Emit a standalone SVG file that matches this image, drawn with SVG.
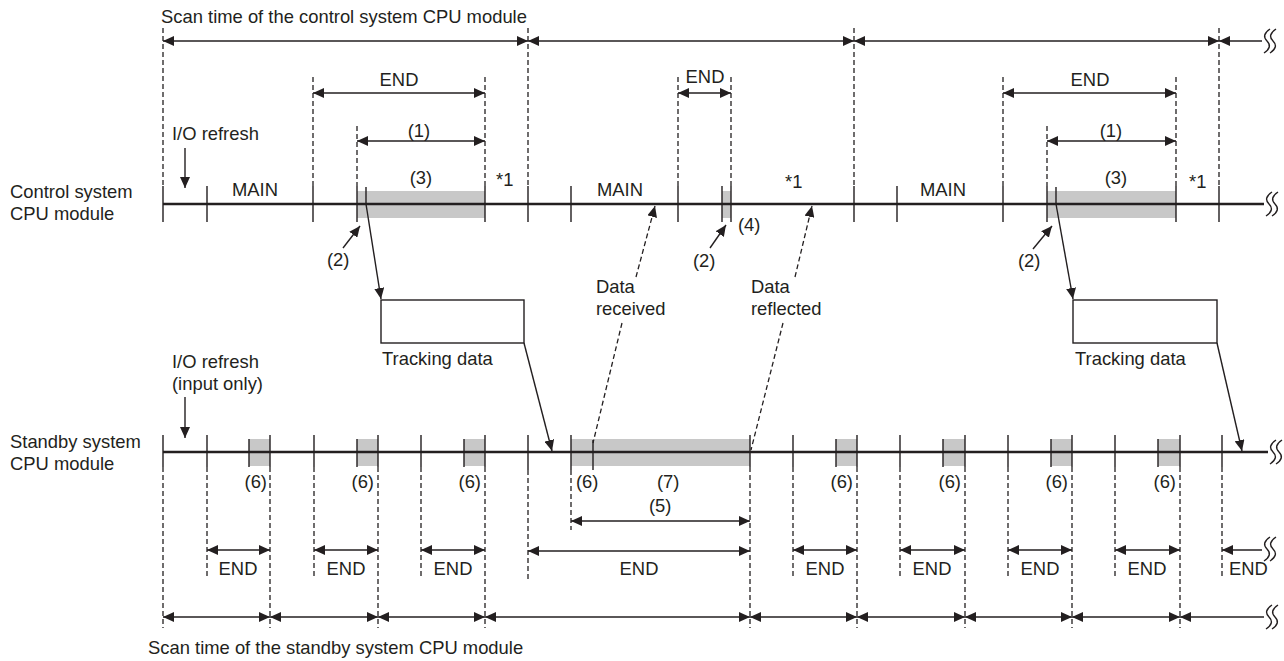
<svg xmlns="http://www.w3.org/2000/svg" width="1284" height="661" viewBox="0 0 1284 661">
<style>
text{font-family:"Liberation Sans",Arial,sans-serif;font-size:18.4px;fill:#231f20}
.c{text-anchor:middle}
.e{text-anchor:end}
.tl{stroke:#231f20;stroke-width:2.6;fill:none}
.tk{stroke:#231f20;stroke-width:1.4;fill:none}
.ds{stroke:#231f20;stroke-width:1.3;stroke-dasharray:5,3;fill:none}
.ar{stroke:#231f20;stroke-width:1.4;fill:none;marker-end:url(#ah)}
.dd{stroke:#231f20;stroke-width:1.4;fill:none;marker-start:url(#ah);marker-end:url(#ah)}
.st{stroke:#231f20;stroke-width:1.4;fill:none;marker-start:url(#ah)}
.dar{stroke:#231f20;stroke-width:1.3;stroke-dasharray:5,3;fill:none;marker-end:url(#ah)}
.da{stroke:#231f20;stroke-width:1.3;stroke-dasharray:5,3;fill:none}
.g{fill:#c8c8c8}
.br{stroke:#231f20;stroke-width:1.4;fill:none}
.bx{fill:#fff;stroke:#231f20;stroke-width:1.4}
</style>
<defs>
<marker id="ah" markerUnits="userSpaceOnUse" markerWidth="12" markerHeight="10" refX="11" refY="5" orient="auto-start-reverse">
<path d="M0,0 L11,5 L0,10 z" fill="#231f20"/>
</marker>
<path id="sq" d="M4,-12 Q-5,-6 1,0 Q7,6 -2,12"/>
</defs>

<g id="labels">
<text x="161" y="23">Scan time of the control system CPU module</text>
<text x="10" y="198">Control system</text>
<text x="10" y="220">CPU module</text>
<text x="10" y="448">Standby system</text>
<text x="10" y="470">CPU module</text>
<text x="148" y="654">Scan time of the standby system CPU module</text>
</g>

<g id="control-timeline">
<rect class="g" x="357" y="191" width="128" height="27"/>
<rect class="g" x="722" y="191" width="9" height="27"/>
<rect class="g" x="1047" y="191" width="129" height="27"/>
<line class="tl" x1="163" y1="204" x2="1264" y2="204"/>
<path class="tk" d="M163,186V222M207,186V222M313,186V222M357,186V222M366,187V205M485,186V222M528,186V222M571,186V222M678,186V222M722,186V222M731,186V222M854,186V222M897,186V222M1003,186V222M1047,186V222M1056,187V205M1176,186V222M1219,186V222"/>
<g class="br"><use href="#sq" x="1268" y="204"/><use href="#sq" x="1274" y="204"/></g>
<text class="c" x="255" y="196">MAIN</text>
<text class="c" x="620" y="196">MAIN</text>
<text class="c" x="943" y="196">MAIN</text>
<text class="c" x="421" y="184">(3)</text>
<text class="c" x="1116" y="184">(3)</text>
<text x="496" y="186">*1</text>
<text x="785" y="188">*1</text>
<text x="1189" y="188">*1</text>
<text x="738" y="231">(4)</text>
<text x="172" y="140">I/O refresh</text>
</g>

<g id="standby-timeline">
<rect class="g" x="249" y="439" width="21" height="27"/>
<rect class="g" x="357" y="439" width="21" height="27"/>
<rect class="g" x="464" y="439" width="21" height="27"/>
<rect class="g" x="571" y="439" width="179" height="27"/>
<rect class="g" x="836" y="439" width="21" height="27"/>
<rect class="g" x="943" y="439" width="22" height="27"/>
<rect class="g" x="1051" y="439" width="21" height="27"/>
<rect class="g" x="1158" y="439" width="22" height="27"/>
<line class="tl" x1="163" y1="452" x2="1268" y2="452"/>
<path class="tk" d="M163,435V467M207,435V467M249,439V467M270,435V467M314,435V467M357,439V467M378,435V467M421,435V467M464,439V467M485,435V467M528,435V470M571,435V470M593,440V470M750,435V467M793,435V467M836,439V467M857,435V467M900,435V467M943,439V467M965,435V467M1008,435V467M1051,439V467M1072,435V467M1115,435V467M1158,439V467M1180,435V467M1222,435V467"/>
<g class="br"><use href="#sq" x="1272" y="452"/><use href="#sq" x="1278" y="452"/></g>
<text class="e" x="267" y="488">(6)</text>
<text class="e" x="374" y="488">(6)</text>
<text class="e" x="481" y="488">(6)</text>
<text x="576" y="488">(6)</text>
<text x="657" y="488">(7)</text>
<text class="e" x="853" y="488">(6)</text>
<text class="e" x="961" y="488">(6)</text>
<text class="e" x="1068" y="488">(6)</text>
<text class="e" x="1176" y="488">(6)</text>
<text x="172" y="368">I/O refresh</text>
<text x="172" y="390">(input only)</text>
</g>

<g id="tracking-data-1">
<rect class="bx" x="381" y="300" width="143" height="43"/>
<text x="382" y="365">Tracking data</text>
</g>
<g id="tracking-data-2">
<rect class="bx" x="1073" y="300" width="144" height="43"/>
<text x="1075" y="365">Tracking data</text>
</g>

<g id="data-labels">
<text x="596" y="293">Data</text>
<text x="596" y="315">received</text>
<text x="751" y="293">Data</text>
<text x="751" y="315">reflected</text>
<text x="327" y="266">(2)</text>
<text x="693" y="267">(2)</text>
<text x="1018" y="267">(2)</text>
</g>

<g id="dimension-labels">
<text class="c" x="399" y="86">END</text>
<text class="c" x="705" y="83">END</text>
<text class="c" x="1090" y="86">END</text>
<text class="c" x="419" y="137">(1)</text>
<text class="c" x="1111" y="137">(1)</text>
<text x="649" y="512">(5)</text>
<text class="c" x="238" y="575">END</text>
<text class="c" x="346" y="575">END</text>
<text class="c" x="453" y="575">END</text>
<text class="c" x="639" y="575">END</text>
<text class="c" x="825" y="575">END</text>
<text class="c" x="932" y="575">END</text>
<text class="c" x="1040" y="575">END</text>
<text class="c" x="1147" y="575">END</text>
<text x="1229" y="575">END</text>
</g>

<g id="connectors">
<path class="ds" d="M163,28V186M313,77V186M357,126V186M485,77V186M528,28V186M678,77V186M731,77V186M854,28V186M1003,77V186M1047,126V186M1176,77V186M1219,28V186"/>
<path class="ds" d="M163,467V628M207,467V579M270,467V628M314,467V579M378,467V628M421,467V579M485,467V628M528,470V580M571,470V530M750,467V628M793,467V579M857,467V628M900,467V579M965,467V628M1008,467V579M1072,467V628M1115,467V579M1180,467V628M1222,467V579"/>
<line class="dd" x1="163" y1="41" x2="528" y2="41"/>
<line class="dd" x1="528" y1="41" x2="854" y2="41"/>
<line class="dd" x1="854" y1="41" x2="1219" y2="41"/>
<line class="st" x1="1219" y1="41" x2="1262" y2="41"/>
<g class="br"><use href="#sq" x="1266" y="41"/><use href="#sq" x="1272" y="41"/></g>
<line class="dd" x1="313" y1="93" x2="485" y2="93"/>
<line class="dd" x1="678" y1="93" x2="731" y2="93"/>
<line class="dd" x1="1003" y1="93" x2="1176" y2="93"/>
<line class="dd" x1="357" y1="141" x2="485" y2="141"/>
<line class="dd" x1="1047" y1="141" x2="1176" y2="141"/>
<line class="ar" x1="185" y1="148" x2="185" y2="188"/>
<line class="ar" x1="185" y1="397" x2="185" y2="438"/>
<line class="ar" x1="343" y1="248" x2="360" y2="226"/>
<line class="ar" x1="710" y1="248" x2="726" y2="225"/>
<line class="ar" x1="1033" y1="249" x2="1052" y2="226"/>
<line class="ar" x1="366" y1="204" x2="381" y2="299"/>
<line class="ar" x1="524" y1="343" x2="552" y2="451"/>
<line class="ar" x1="1056" y1="204" x2="1073" y2="299"/>
<line class="ar" x1="1217" y1="343" x2="1242" y2="451"/>
<line class="dar" x1="636" y1="277" x2="655" y2="206"/>
<line class="da" x1="622" y1="323" x2="593" y2="443"/>
<line class="dar" x1="795" y1="277" x2="812" y2="206"/>
<line class="da" x1="783" y1="323" x2="751" y2="450"/>
<line class="dd" x1="571" y1="521" x2="750" y2="521"/>
<line class="dd" x1="207" y1="550" x2="270" y2="550"/>
<line class="dd" x1="314" y1="550" x2="378" y2="550"/>
<line class="dd" x1="421" y1="550" x2="485" y2="550"/>
<line class="dd" x1="528" y1="551" x2="750" y2="551"/>
<line class="dd" x1="793" y1="550" x2="857" y2="550"/>
<line class="dd" x1="900" y1="550" x2="965" y2="550"/>
<line class="dd" x1="1008" y1="550" x2="1072" y2="550"/>
<line class="dd" x1="1115" y1="550" x2="1180" y2="550"/>
<line class="st" x1="1222" y1="550" x2="1262" y2="550"/>
<g class="br"><use href="#sq" x="1266" y="549"/><use href="#sq" x="1272" y="549"/></g>
<line class="dd" x1="163" y1="617" x2="270" y2="617"/>
<line class="dd" x1="270" y1="617" x2="378" y2="617"/>
<line class="dd" x1="378" y1="617" x2="485" y2="617"/>
<line class="dd" x1="485" y1="617" x2="750" y2="617"/>
<line class="dd" x1="750" y1="617" x2="857" y2="617"/>
<line class="dd" x1="857" y1="617" x2="965" y2="617"/>
<line class="dd" x1="965" y1="617" x2="1072" y2="617"/>
<line class="dd" x1="1072" y1="617" x2="1180" y2="617"/>
<line class="st" x1="1180" y1="617" x2="1264" y2="617"/>
<g class="br"><use href="#sq" x="1268" y="617"/><use href="#sq" x="1274" y="617"/></g>
</g>
</svg>
